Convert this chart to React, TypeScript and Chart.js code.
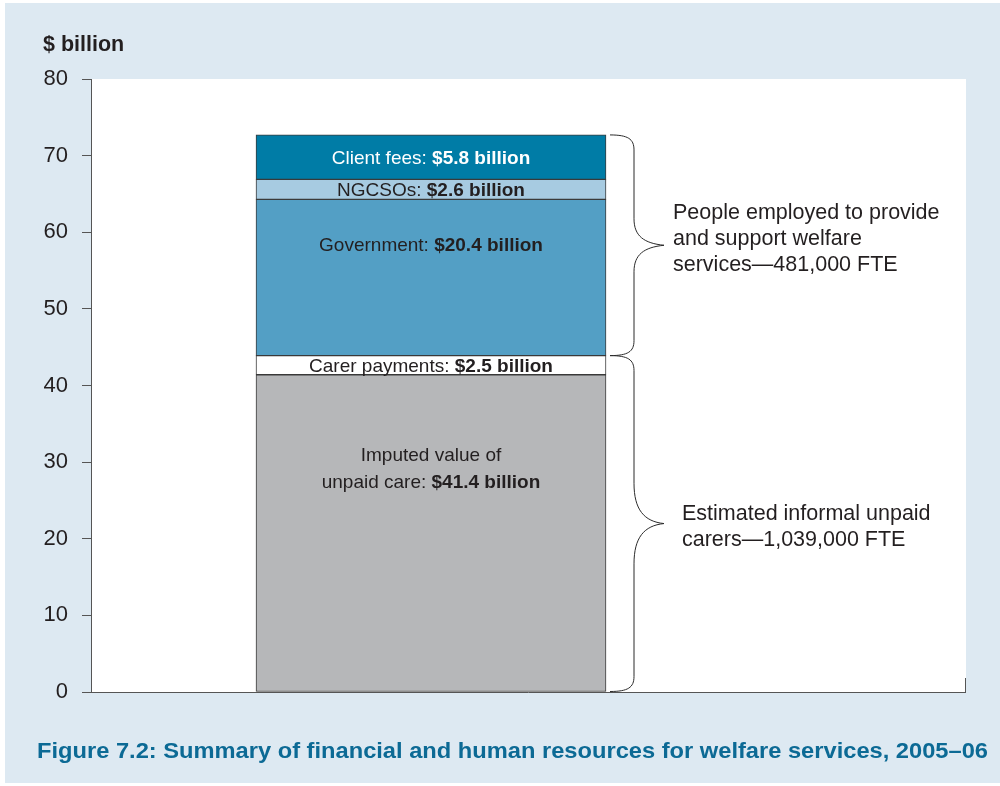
import React, { useEffect, useRef } from "react";
import { Chart, registerables } from "chart.js";

Chart.register(...registerables);

// ---------- data ----------
const categories = ["2005–06"];
const seriesNames = [
  "Imputed value of unpaid care",
  "Carer payments",
  "Government",
  "NGCSOs",
  "Client fees",
];
const seriesValues = [41.4, 2.5, 20.4, 2.6, 5.8];
const labelLead = ["Imputed value of", "", "", "", ""];
const labelPlain = ["unpaid care: ", "Carer payments: ", "Government: ", "NGCSOs: ", "Client fees: "];
const labelBold = ["$41.4 billion", "$2.5 billion", "$20.4 billion", "$2.6 billion", "$5.8 billion"];
const groupRanges = [
  [0, 1],
  [2, 4],
];
const groupLines = [
  ["Estimated informal unpaid", "carers—1,039,000 FTE"],
  ["People employed to provide", "and support welfare", "services—481,000 FTE"],
];
const yMin = 0;
const yMax = 80;
const yStep = 10;
const yTitle = "$ billion";
const caption = "Figure 7.2: Summary of financial and human resources for welfare services, 2005–06";

// ---------- styles ----------
const FONT = '"Liberation Sans", Arial, Helvetica, sans-serif';
const segColors = ["#b6b7b9", "#ffffff", "#539fc5", "#a7cbe1", "#007ca6"];
const segTextColors = ["#231f20", "#231f20", "#231f20", "#231f20", "#ffffff"];
const labelFirstBaseline: (number | null)[] = [86, null, 52, null, null];
const groupTextDx = [18, 9];
const groupTextDy = [9, 0];
const PLOT_RIGHT = 966;
const PANEL = "#dde9f2";
const TEXT = "#231f20";
const AXIS = "#555555";

function drawBrace(ctx: CanvasRenderingContext2D, x0: number, x1: number, yTop: number, yBot: number) {
  const xm = x0 + 24;
  const r = 15;
  const mid = (yTop + yBot) / 2;
  const tl = Math.min(42, (yBot - yTop) * 0.12);
  ctx.beginPath();
  ctx.moveTo(x0, yTop);
  ctx.bezierCurveTo(xm - 6, yTop, xm, yTop + 4, xm, yTop + r);
  ctx.lineTo(xm, mid - tl);
  ctx.bezierCurveTo(xm, mid - tl * 0.35, x1 - 20, mid - 2, x1, mid);
  ctx.bezierCurveTo(x1 - 20, mid + 2, xm, mid + tl * 0.35, xm, mid + tl);
  ctx.lineTo(xm, yBot - r);
  ctx.bezierCurveTo(xm, yBot - 4, xm - 6, yBot, x0, yBot);
  ctx.stroke();
}

const decoPlugin = {
  id: "deco",
  beforeDraw(chart: any) {
    const { ctx, chartArea: a } = chart;
    ctx.save();
    ctx.fillStyle = "#ffffff";
    ctx.fillRect(0, 0, chart.width, chart.height);
    ctx.fillStyle = PANEL;
    ctx.fillRect(5, 3, chart.width - 5, 780);
    ctx.fillStyle = "#ffffff";
    ctx.fillRect(a.left, a.top, PLOT_RIGHT - a.left, a.bottom - a.top);
    ctx.restore();
  },
  afterDatasetsDraw(chart: any) {
    const { ctx, chartArea: a } = chart;
    ctx.save();
    // bottom axis line and right end tick
    ctx.strokeStyle = AXIS;
    ctx.lineWidth = 1;
    ctx.beginPath();
    ctx.moveTo(a.left, Math.round(a.bottom) + 0.5);
    ctx.lineTo(PLOT_RIGHT, Math.round(a.bottom) + 0.5);
    ctx.moveTo(PLOT_RIGHT - 0.5, a.bottom);
    ctx.lineTo(PLOT_RIGHT - 0.5, a.bottom - 14);
    ctx.stroke();

    // segment labels
    const fsz = 19;
    const lh = 27;
    ctx.textBaseline = "alphabetic";
    ctx.textAlign = "left";
    seriesValues.forEach((_, i) => {
      const el = chart.getDatasetMeta(i).data[0];
      if (!el) return;
      const top = Math.min(el.y, el.base);
      const bot = Math.max(el.y, el.base);
      const lines: [string, string][] = [];
      if (labelLead[i]) lines.push([labelLead[i], ""]);
      lines.push([labelPlain[i], labelBold[i]]);
      let base0: number;
      const fb = labelFirstBaseline[i];
      if (fb != null) base0 = top + fb;
      else base0 = (top + bot) / 2 + 6.5 - ((lines.length - 1) * lh) / 2;
      ctx.fillStyle = segTextColors[i];
      lines.forEach(([p, b], k) => {
        ctx.font = `${fsz}px ${FONT}`;
        const wp = ctx.measureText(p).width;
        ctx.font = `bold ${fsz}px ${FONT}`;
        const wb = ctx.measureText(b).width;
        const sx = el.x - (wp + wb) / 2;
        const y = base0 + k * lh;
        ctx.font = `${fsz}px ${FONT}`;
        ctx.fillText(p, sx, y);
        ctx.font = `bold ${fsz}px ${FONT}`;
        ctx.fillText(b, sx + wp, y);
      });
    });

    // braces + annotations
    const bar0 = chart.getDatasetMeta(0).data[0];
    const x0 = bar0.x + bar0.width / 2 + 4;
    const x1 = x0 + 54;
    groupRanges.forEach(([s, e], g) => {
      const eb = chart.getDatasetMeta(s).data[0];
      const et = chart.getDatasetMeta(e).data[0];
      const yBot = Math.max(eb.y, eb.base);
      const yTop = Math.min(et.y, et.base);
      ctx.strokeStyle = "#2b2b2b";
      ctx.lineWidth = 1;
      drawBrace(ctx, x0, x1, yTop, yBot);
      const mid = (yTop + yBot) / 2;
      const lines = groupLines[g];
      const alh = 26;
      ctx.fillStyle = TEXT;
      ctx.font = `21.5px ${FONT}`;
      const first = mid + groupTextDy[g] - ((lines.length - 1) * alh) / 2;
      lines.forEach((t, k) => ctx.fillText(t, x1 + groupTextDx[g], first + k * alh));
    });
    ctx.restore();
  },
  afterDraw(chart: any) {
    const { ctx } = chart;
    ctx.save();
    ctx.fillStyle = TEXT;
    ctx.textAlign = "left";
    ctx.textBaseline = "alphabetic";
    ctx.font = `bold 21.5px ${FONT}`;
    ctx.fillText(yTitle, 43, 51);

    ctx.font = `bold 22px ${FONT}`;
    ctx.fillStyle = "#0c6a95";
    const w = ctx.measureText(caption).width;
    const target = 951;
    ctx.translate(37, 758);
    ctx.scale(target / w, 1);
    ctx.fillText(caption, 0, 0);
    ctx.restore();
  },
};

export default function App() {
  const ref = useRef<HTMLCanvasElement | null>(null);
  useEffect(() => {
    document.body.style.margin = "0";
    const canvas = ref.current;
    if (!canvas) return;
    const chart = new Chart(canvas, {
      type: "bar",
      data: {
        labels: categories,
        datasets: seriesNames.map((name, i) => ({
          label: name,
          data: [seriesValues[i]],
          backgroundColor: segColors[i],
          borderColor: "#3a3a3a",
          borderWidth: 1,
          borderSkipped: false,
          barThickness: 350,
        })),
      },
      options: {
        responsive: false,
        animation: false,
        devicePixelRatio: 1,
        layout: { padding: { left: 0, right: 229, top: 79, bottom: 94 } },
        plugins: { legend: { display: false }, tooltip: { enabled: false } },
        scales: {
          x: { type: "category", stacked: true, display: false, offset: true },
          y: {
            stacked: true,
            min: yMin,
            max: yMax,
            afterFit: (s: any) => {
              s.width = 91;
            },
            ticks: {
              stepSize: yStep,
              color: TEXT,
              padding: 14,
              font: { family: FONT, size: 22 },
            },
            grid: {
              display: true,
              drawOnChartArea: false,
              drawTicks: true,
              tickLength: 9,
              color: AXIS,
              lineWidth: 1,
            },
            border: { display: true, color: AXIS, width: 1 },
          },
        },
      },
      plugins: [decoPlugin],
    });
    return () => chart.destroy();
  }, []);
  return (
    <div style={{ position: "absolute", left: 0, top: 0, width: 1000, height: 786 }}>
      <canvas ref={ref} width={1000} height={786} />
    </div>
  );
}
